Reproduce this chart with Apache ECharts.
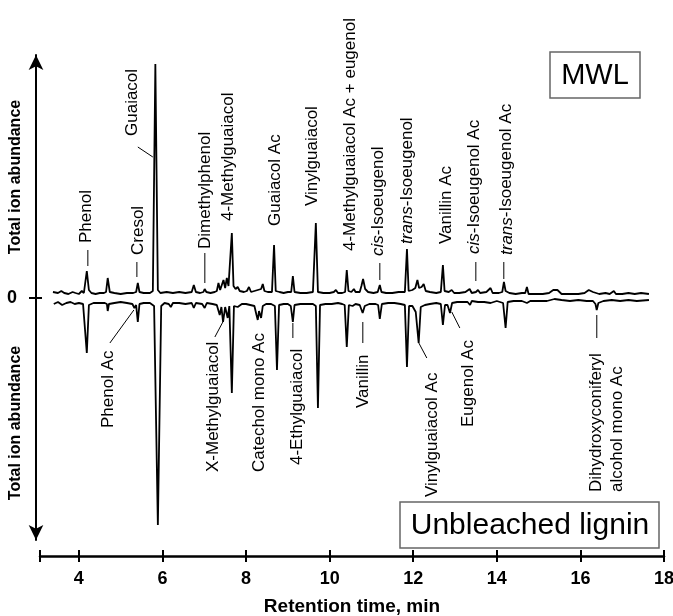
<!DOCTYPE html>
<html>
<head>
<meta charset="utf-8">
<script src="https://cdn.jsdelivr.net/npm/echarts@6/dist/echarts.min.js"></script>
<style>
html,body{margin:0;padding:0;background:#fff;}
#c{width:673px;height:616px;}
</style>
</head>
<body>
<div id="c"></div>
<script>
// Retention time (min) tick labels
const xTickLabels = [4, 6, 8, 10, 12, 14, 16, 18];
const xMin = 3.07, xMax = 18;

// MWL trace (upper, positive abundance): [retention time, abundance]
const mwlTrace = [
  [3.38,6],[3.50,5],[3.58,7],[3.65,5],[3.75,4],[3.85,6],[3.92,5],[4.00,4],[4.07,7],[4.12,5],
  [4.15,6],[4.19,27],[4.24,8],[4.30,5],[4.40,4],[4.50,5],[4.60,5],[4.65,6],[4.69,20],[4.74,6],
  [4.85,5],[5.00,4],[5.15,5],[5.30,5],[5.37,6],[5.41,15],[5.45,6],[5.55,5],[5.70,5],[5.77,7],
  [5.83,234],[5.89,8],[5.95,5],[6.10,6],[6.25,5],[6.40,6],[6.55,5],[6.70,6],[6.75,13],[6.80,6],
  [6.90,5],[6.98,6],[7.01,9],[7.05,6],[7.15,5],[7.25,6],[7.30,7],[7.34,15],[7.38,8],[7.42,9],
  [7.46,18],[7.50,10],[7.54,20],[7.58,12],[7.62,14],[7.66,65],[7.70,12],[7.75,9],[7.80,11],[7.85,7],
  [7.95,6],[8.02,7],[8.07,11],[8.12,6],[8.20,7],[8.28,8],[8.32,7],[8.36,9],[8.40,14],[8.44,7],
  [8.52,6],[8.62,6],[8.67,53],[8.71,7],[8.80,6],[8.90,5],[9.00,6],[9.08,6],[9.12,22],[9.16,6],
  [9.30,5],[9.45,5],[9.60,6],[9.67,75],[9.72,6],[9.85,5],[10.00,5],[10.10,6],[10.15,8],[10.20,5],
  [10.30,5],[10.37,6],[10.41,28],[10.45,7],[10.52,6],[10.58,9],[10.62,6],[10.72,6],[10.76,12],[10.80,19],
  [10.85,9],[10.92,6],[11.05,5],[11.15,6],[11.20,13],[11.24,6],[11.35,5],[11.50,5],[11.65,6],[11.80,6],
  [11.85,49],[11.89,7],[11.98,8],[12.05,10],[12.10,18],[12.14,10],[12.20,11],[12.25,14],[12.30,7],[12.40,6],
  [12.55,5],[12.66,6],[12.71,33],[12.75,7],[12.85,6],[12.92,8],[12.98,5],[13.10,5],[13.25,6],[13.35,9],
  [13.40,5],[13.50,6],[13.55,8],[13.60,5],[13.75,6],[13.85,10],[13.90,5],[14.05,5],[14.13,6],[14.17,16],
  [14.21,7],[14.30,5],[14.45,4],[14.60,5],[14.68,5],[14.72,11],[14.76,4],[14.90,4],[15.10,4],[15.25,5],
  [15.35,8],[15.45,8],[15.55,4],[15.75,4],[15.95,4],[16.10,5],[16.20,8],[16.30,6],[16.45,4],[16.60,5],
  [16.70,4],[16.80,7],[16.85,4],[17.00,4],[17.15,5],[17.30,4],[17.45,5],[17.64,4]
];

// Unbleached lignin trace (lower, mirrored negative abundance): [retention time, abundance]
const ublTrace = [
  [3.40,-6],[3.50,-4],[3.60,-7],[3.70,-5],[3.80,-4],[3.90,-6],[4.00,-5],[4.10,-6],
  [4.14,-7],[4.19,-55],[4.24,-7],[4.35,-5],[4.50,-5],[4.62,-5],[4.67,-6],[4.69,-13],[4.72,-6],
  [4.85,-5],[5.00,-4],[5.15,-5],[5.28,-6],[5.33,-10],[5.37,-7],[5.41,-24],[5.45,-6],[5.55,-5],
  [5.70,-5],[5.80,-8],[5.89,-227],[5.97,-8],[6.05,-5],[6.15,-6],[6.20,-9],[6.25,-5],[6.40,-5],
  [6.55,-6],[6.70,-5],[6.75,-10],[6.80,-5],[6.95,-6],[7.01,-10],[7.06,-5],[7.20,-6],[7.30,-7],
  [7.37,-17],[7.41,-9],[7.45,-24],[7.50,-9],[7.56,-20],[7.60,-8],[7.66,-95],[7.71,-8],[7.80,-9],
  [7.90,-6],[8.00,-6],[8.10,-7],[8.20,-8],[8.25,-17],[8.28,-22],[8.31,-13],[8.36,-20],[8.40,-8],
  [8.48,-6],[8.60,-6],[8.69,-8],[8.74,-72],[8.79,-7],[8.90,-6],[9.00,-6],[9.07,-8],[9.12,-24],
  [9.16,-7],[9.30,-6],[9.45,-6],[9.60,-6],[9.67,-8],[9.72,-110],[9.77,-7],[9.90,-6],[10.05,-6],
  [10.20,-5],[10.30,-6],[10.36,-7],[10.41,-49],[10.46,-7],[10.55,-8],[10.62,-6],[10.72,-7],[10.79,-15],
  [10.84,-8],[10.95,-6],[11.10,-6],[11.16,-7],[11.20,-21],[11.25,-6],[11.40,-5],[11.55,-5],[11.70,-6],
  [11.80,-7],[11.85,-69],[11.90,-8],[11.98,-8],[12.06,-14],[12.13,-45],[12.18,-9],[12.28,-7],[12.40,-6],
  [12.55,-5],[12.66,-6],[12.71,-27],[12.76,-7],[12.82,-7],[12.88,-15],[12.93,-5],[13.05,-4],[13.20,-4],
  [13.30,-4],[13.36,-7],[13.40,-3],[13.55,-4],[13.70,-4],[13.85,-5],[14.00,-3],[14.15,-5],[14.21,-30],
  [14.26,-4],[14.40,-3],[14.60,-3],[14.72,-5],[14.80,-3],[15.00,-3],[15.20,-3],[15.38,-1],[15.55,-2],
  [15.75,-3],[15.95,-2],[16.15,-3],[16.30,-3],[16.36,-6],[16.39,-12],[16.43,-5],[16.55,-3],[16.75,-2],
  [16.95,-3],[17.15,-2],[17.35,-3],[17.64,-2]
];

// Peak annotations: text, text anchor [time, abundance] (start of rotated text), optional leader [t1,v1,t2,v2]
const mwlLabels = [
  {text:'Phenol', at:[4.167,55], leader:[4.215,48,4.215,32]},
  {text:'Cresol', at:[5.411,43], leader:[5.388,36,5.388,21]},
  {text:'Guaiacol', at:[5.268,162], leader:[5.411,151,5.770,141]},
  {text:'Dimethylphenol', at:[7.014,49], leader:[7.014,45,7.014,15]},
  {text:'4-Methylguaiacol', at:[7.565,77]},
  {text:'Guaiacol Ac', at:[8.689,72]},
  {text:'Vinylguaiacol', at:[9.574,92]},
  {text:'4-Methylguaiacol Ac + eugenol', at:[10.483,47]},
  {text:'{i|cis}-Isoeugenol', at:[11.153,42], leader:[11.201,35,11.201,18]},
  {text:'{i|trans}-Isoeugenol', at:[11.847,54]},
  {text:'Vanillin Ac', at:[12.780,54]},
  {text:'{i|cis}-Isoeugenol Ac', at:[13.450,44], leader:[13.498,36,13.498,17]},
  {text:'{i|trans}-Isoeugenol Ac', at:[14.239,43], leader:[14.167,36,14.167,19]}
];
const ublLabels = [
  {text:'Phenol Ac', at:[4.694,-130], leader:[4.742,-45,5.316,-12]},
  {text:'X-Methylguaiacol', at:[7.206,-174], leader:[7.254,-39,7.445,-24]},
  {text:'Catechol mono Ac', at:[8.306,-174]},
  {text:'4-Ethylguaiacol', at:[9.215,-167], leader:[9.120,-25,9.120,-40]},
  {text:'Vanillin', at:[10.794,-110], leader:[10.794,-24,10.794,-45]},
  {text:'Vinylguaiacol Ac', at:[12.445,-199], leader:[12.325,-60,12.134,-45]},
  {text:'Eugenol Ac', at:[13.306,-129], leader:[13.115,-30,12.923,-14]},
  {text:'Dihydroxyconiferyl\nalcohol mono Ac', at:[16.632,-194], leader:[16.392,-17,16.392,-40]}
];
const sampleNames = ['MWL', 'Unbleached lignin'];
const yAxisTitle = 'Total ion abundance';
const xAxisTitle = 'Retention time, min';

const FONT = '"Liberation Sans", Arial, sans-serif';
const chart = echarts.init(document.getElementById('c'));

const tickVals = [xMin].concat(xTickLabels);
const baseX = {
  type: 'value', min: xMin, max: xMax, position: 'bottom', offset: 16,
  splitLine: {show: false}
};
const baseY = {
  type: 'value', min: -242, max: 243, offset: 4, splitLine: {show: false}
};

chart.setOption({
  animation: false,
  backgroundColor: '#fff',
  grid: {left: 40, right: 9, top: 55, bottom: 76, containLabel: false, outerBoundsMode: 'none'},
  xAxis: [
    Object.assign({}, baseX, {
      axisLine: {show: true, onZero: false, lineStyle: {color: '#000', width: 2.5}},
      axisTick: {show: true, customValues: tickVals, length: 6, lineStyle: {color: '#000', width: 2}},
      axisLabel: {show: true, customValues: xTickLabels, color: '#000', fontSize: 18, fontWeight: 'bold', fontFamily: FONT, margin: 14},
      name: xAxisTitle, nameLocation: 'middle', nameGap: 41,
      nameTextStyle: {color: '#000', fontSize: 19, fontWeight: 'bold', fontFamily: FONT}
    }),
    Object.assign({}, baseX, {
      axisLine: {show: false, onZero: false},
      axisTick: {show: true, inside: true, customValues: tickVals, length: 6, lineStyle: {color: '#000', width: 2}},
      axisLabel: {show: false}
    })
  ],
  yAxis: [
    Object.assign({}, baseY, {
      axisLine: {show: true, onZero: false, symbol: ['arrow', 'arrow'], symbolSize: [11, 15], lineStyle: {color: '#000', width: 2}},
      axisTick: {show: true, customValues: [0], length: 7, lineStyle: {color: '#000', width: 2}},
      axisLabel: {show: true, customValues: [0], color: '#000', fontSize: 18, fontWeight: 'bold', fontFamily: FONT, margin: 19}
    }),
    Object.assign({}, baseY, {
      position: 'left',
      axisLine: {show: false, onZero: false},
      axisTick: {show: true, inside: true, customValues: [0], length: 6, lineStyle: {color: '#000', width: 2}},
      axisLabel: {show: false}
    })
  ],
  series: [
    {name: sampleNames[0], type: 'line', data: mwlTrace, showSymbol: false, xAxisIndex: 0, yAxisIndex: 0,
     lineStyle: {color: '#000', width: 1.8}, z: 3},
    {name: sampleNames[1], type: 'line', data: ublTrace, showSymbol: false, xAxisIndex: 0, yAxisIndex: 0,
     lineStyle: {color: '#000', width: 1.8}, z: 3}
  ]
});

function px(p) { return chart.convertToPixel({seriesIndex: 0}, p); }

const graphics = [];
function addLabels(list) {
  list.forEach(function (l) {
    const p = px(l.at);
    graphics.push({
      type: 'text', x: p[0], y: p[1], rotation: Math.PI / 2, silent: true,
      style: {
        text: l.text, fill: '#000', fontSize: 17, fontFamily: FONT,
        align: 'left', verticalAlign: 'middle', lineHeight: 21,
        rich: {i: {fontStyle: 'italic', fontSize: 17, fontFamily: FONT, fill: '#000'}}
      }
    });
    if (l.leader) {
      const a = px([l.leader[0], l.leader[1]]);
      const b = px([l.leader[2], l.leader[3]]);
      graphics.push({
        type: 'line', silent: true,
        shape: {x1: a[0], y1: a[1], x2: b[0], y2: b[1]},
        style: {stroke: '#000', lineWidth: 1}
      });
    }
  });
}
addLabels(mwlLabels);
addLabels(ublLabels);

// y-axis titles
graphics.push({type: 'text', x: 16, y: 177, rotation: Math.PI / 2, silent: true,
  style: {text: yAxisTitle, fill: '#000', fontSize: 16, fontWeight: 'bold', fontFamily: FONT, align: 'center', verticalAlign: 'middle'}});
graphics.push({type: 'text', x: 16, y: 423, rotation: Math.PI / 2, silent: true,
  style: {text: yAxisTitle, fill: '#000', fontSize: 16, fontWeight: 'bold', fontFamily: FONT, align: 'center', verticalAlign: 'middle'}});

// sample boxes
graphics.push({type: 'rect', silent: true, shape: {x: 550, y: 52, width: 90, height: 46},
  style: {fill: '#fff', stroke: '#666', lineWidth: 1.5}});
graphics.push({type: 'text', x: 595, y: 76, silent: true,
  style: {text: sampleNames[0], fill: '#000', fontSize: 29, fontFamily: FONT, align: 'center', verticalAlign: 'middle'}});
graphics.push({type: 'rect', silent: true, shape: {x: 400, y: 502, width: 259, height: 46},
  style: {fill: '#fff', stroke: '#666', lineWidth: 1.5}});
graphics.push({type: 'text', x: 530, y: 526, silent: true,
  style: {text: sampleNames[1], fill: '#000', fontSize: 30, fontFamily: FONT, align: 'center', verticalAlign: 'middle'}});

chart.setOption({graphic: graphics});
</script>
</body>
</html>
